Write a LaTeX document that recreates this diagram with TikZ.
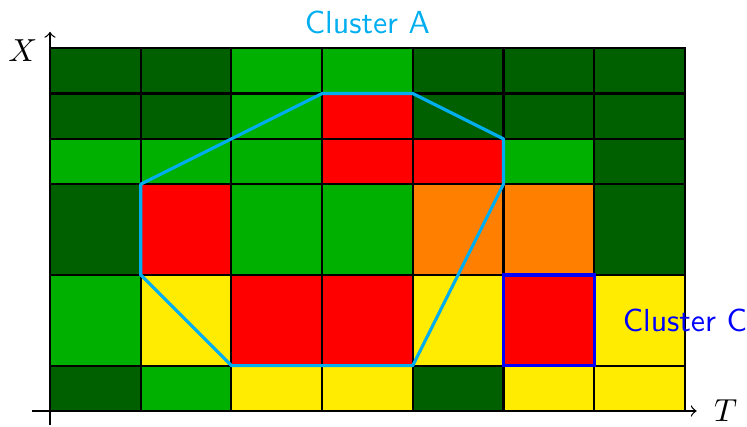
\documentclass[tikz,border=0pt]{standalone}
\usepackage{tikz}
\definecolor{dkg}{RGB}{0,96,0}
\definecolor{gr}{RGB}{0,176,0}
\definecolor{rd}{RGB}{255,0,0}
\definecolor{og}{RGB}{255,128,0}
\definecolor{yl}{RGB}{255,236,0}
\definecolor{cya}{RGB}{0,174,239}
\definecolor{blu}{RGB}{0,0,255}
\tikzset{
  cell/.style={draw=black, line width=0.7pt},
  axis/.style={->, thin},
  clusterA/.style={draw=cya, line width=1pt, line join=round},
  clusterC/.style={draw=blu, line width=1pt},
  lblA/.style={text=cya, font=\sffamily, anchor=base},
  lblC/.style={text=blu, font=\sffamily, anchor=base},
}
\begin{document}
\begin{tikzpicture}
\useasboundingbox (-0.551,-0.176) rectangle (7.685,4.531);

% axes
\coordinate (xs) at (-0.198,0);
\coordinate (xe) at (7.13,0);
\coordinate (ys) at (0,-0.154);
\coordinate (ye) at (0,4.18);
\draw[axis] (xs) -- (xe);
\draw[axis] (ys) -- (ye);
\node (T) at (7.45,-0.12) [anchor=base] {$T$};
\node (X) at (-0.30,3.85) [anchor=base] {$X$};

% grid of cells: bottom, top, colours of the seven columns
\foreach \yb/\yt/\cols in {
  0/0.5/{dkg,gr,yl,yl,dkg,yl,yl},
  0.5/1.5/{gr,yl,rd,rd,yl,rd,yl},
  1.5/2.5/{dkg,rd,gr,gr,og,og,dkg},
  2.5/3/{gr,gr,gr,rd,rd,gr,dkg},
  3/3.5/{dkg,dkg,gr,rd,dkg,dkg,dkg},
  3.5/4/{dkg,dkg,gr,gr,dkg,dkg,dkg}}{
  \foreach \c [count=\i from 0] in \cols {
    \draw[cell, fill=\c] (\i,\yb) rectangle ++(1,\yt-\yb);
  }
}

% cluster A outline
\coordinate (a1) at (3,3.5);
\coordinate (a2) at (4,3.5);
\coordinate (a3) at (5,3);
\coordinate (a4) at (5,2.5);
\coordinate (a5) at (4,0.5);
\coordinate (a6) at (2,0.5);
\coordinate (a7) at (1,1.5);
\coordinate (a8) at (1,2.5);
\draw[clusterA] (a1) -- (a2) -- (a3) -- (a4) -- (a5) -- (a6) -- (a7) -- (a8) -- cycle;

% cluster C outline
\coordinate (c1) at (5,0.5);
\coordinate (c2) at (6,1.5);
\draw[clusterC] (c1) rectangle (c2);

\node[lblA] (labA) at (3.5,4.167) {Cluster A};
\node[lblC] (labC) at (7.0,0.871) {Cluster C};
\end{tikzpicture}
\end{document}
